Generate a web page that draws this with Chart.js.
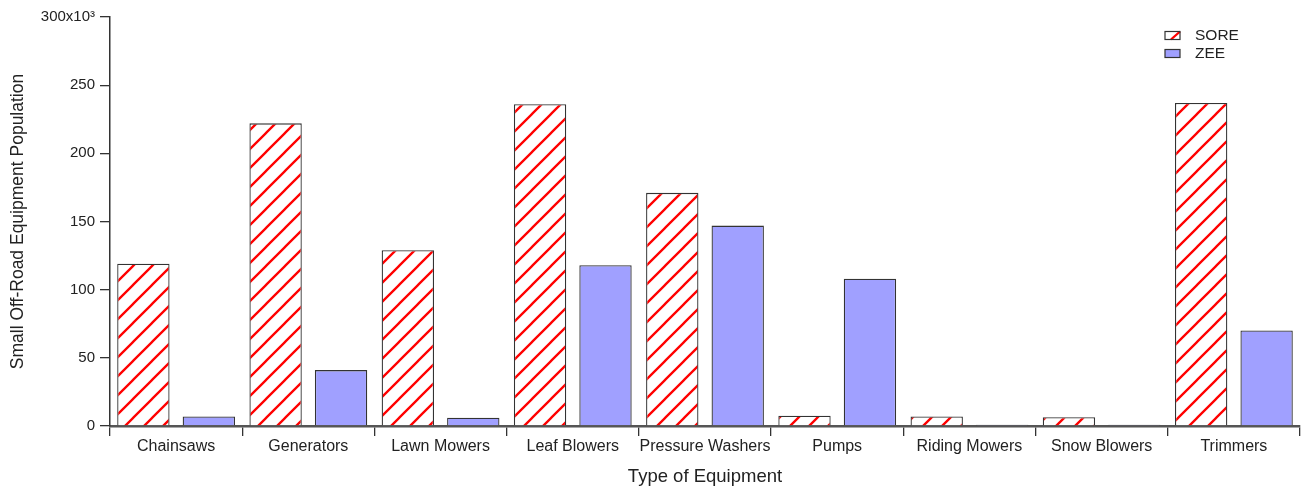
<!DOCTYPE html>
<html>
<head>
  <meta name="viewport" content="width=device-width, initial-scale=1.0">
  <title>Small Off-Road Equipment Population</title>
  <script src="https://cdn.jsdelivr.net/npm/chart.js"></script>
  <style>
    body {
      margin: 0;
      padding: 0;
      background: #fff;
    }
    #wrap {
      width: 1304px;
      height: 490px;
    }
  </style>
</head>
<body>
  <div id="wrap"><canvas id="myChart" width="1304" height="490"></canvas></div>

  <script>
    // data (thousands)
    const categories = ['Chainsaws', 'Generators', 'Lawn Mowers', 'Leaf Blowers', 'Pressure Washers',
                        'Pumps', 'Riding Mowers', 'Snow Blowers', 'Trimmers'];
    const soreValues = [119, 222, 129, 236, 171, 7.5, 7, 6.5, 237];
    const zeeValues  = [7, 41, 6, 118, 147, 108, 1, 1, 70];
    const yMax = 300;
    const yStep = 50;

    const FONT = '"Liberation Sans", Arial, sans-serif';

    // red diagonal hatch for SORE
    function makeHatch() {
      const size = 19;
      const c = document.createElement('canvas');
      c.width = size;
      c.height = size;
      const g = c.getContext('2d');
      g.fillStyle = '#fff';
      g.fillRect(0, 0, size, size);
      g.strokeStyle = '#ff0000';
      g.lineWidth = 2.3;
      g.beginPath();
      g.moveTo(-2, size + 2); g.lineTo(size + 2, -2);
      g.moveTo(-2, 2); g.lineTo(2, -2);
      g.moveTo(size - 2, size + 2); g.lineTo(size + 2, size - 2);
      g.stroke();
      return g.createPattern(c, 'repeat');
    }
    const ctx = document.getElementById('myChart').getContext('2d');
    const hatch = makeHatch();

    // small legend top right
    const cornerLegend = {
      id: 'cornerLegend',
      afterDraw(chart) {
        const c = chart.ctx;
        c.save();
        c.font = '15.5px ' + FONT;
        c.textBaseline = 'middle';
        chart.data.datasets.forEach((ds, i) => {
          const y = 35.5 + i * 18;
          if (i === 0) {
            // white box with one red stroke, like the hatch
            c.fillStyle = '#fff';
            c.fillRect(1165, y - 4, 15, 8);
            c.strokeStyle = '#ff0000';
            c.lineWidth = 2.3;
            c.beginPath();
            c.moveTo(1171, y + 4);
            c.lineTo(1180, y - 4);
            c.stroke();
          } else {
            c.fillStyle = ds.backgroundColor;
            c.fillRect(1165, y - 4, 15, 8);
          }
          c.strokeStyle = '#333';
          c.lineWidth = 1.2;
          c.strokeRect(1165, y - 4, 15, 8);
          c.fillStyle = '#222';
          c.fillText(ds.label, 1195, y);
        });
        c.restore();
      }
    };

    const chart = new Chart(ctx, {
      type: 'bar',
      data: {
        labels: categories,
        datasets: [{
          label: 'SORE',
          data: soreValues,
          backgroundColor: hatch,
          borderColor: '#333',
          borderWidth: 1.3
        }, {
          label: 'ZEE',
          data: zeeValues,
          backgroundColor: '#a0a0ff',
          borderColor: '#333',
          borderWidth: 1.3
        }]
      },
      options: {
        responsive: false,
        animation: false,
        categoryPercentage: 0.99,
        barPercentage: 0.8,
        layout: {
          padding: { top: 17, right: 4, left: 0, bottom: 0 }
        },
        plugins: {
          legend: { display: false },
          tooltip: { enabled: false }
        },
        scales: {
          x: {
            offset: true,
            grid: {
              offset: true,
              drawOnChartArea: false,
              drawTicks: true,
              tickLength: 10,
              color: '#333',
              lineWidth: 1.3
            },
            border: { color: '#555', width: 2.5 },
            ticks: {
              color: '#222',
              padding: 1,
              maxRotation: 0,
              autoSkip: false,
              font: { family: FONT, size: 16 }
            },
            title: {
              display: true,
              text: 'Type of Equipment',
              color: '#222',
              padding: { top: 12, bottom: 2 },
              font: { family: FONT, size: 18.5 }
            },
            afterFit(scale) { scale.height = 64; }
          },
          y: {
            min: 0,
            max: yMax,
            grid: {
              drawOnChartArea: false,
              drawTicks: true,
              tickLength: 10,
              color: '#333',
              lineWidth: 1.3
            },
            border: { color: '#333', width: 1.5 },
            ticks: {
              stepSize: yStep,
              color: '#222',
              padding: 5,
              font: { family: FONT, size: 15 },
              callback: (v) => v === yMax ? yMax + 'x10\u00B3' : v
            },
            title: {
              display: true,
              text: 'Small Off-Road Equipment Population',
              color: '#222',
              padding: { top: 8, bottom: 0 },
              font: { family: FONT, size: 17.5 }
            },
            afterFit(scale) { scale.width = 110; }
          }
        }
      },
      plugins: [cornerLegend]
    });
  </script>
</body>
</html>
